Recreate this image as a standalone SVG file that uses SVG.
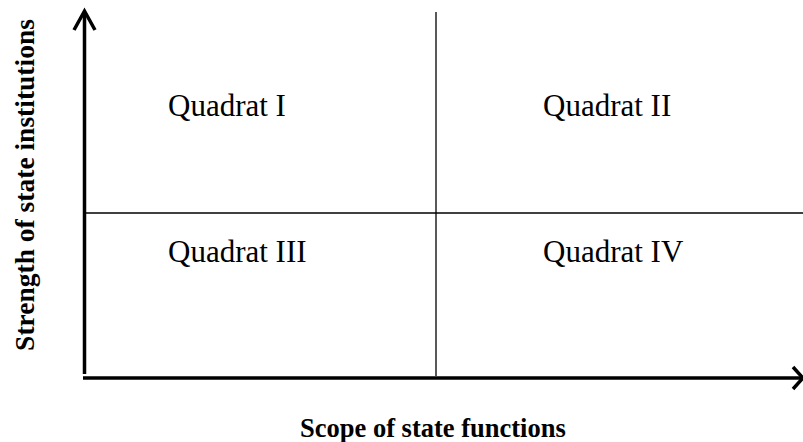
<svg xmlns="http://www.w3.org/2000/svg" width="803" height="442" viewBox="0 0 803 442">
<style>
.q{font-family:"Liberation Serif","Times New Roman",serif;font-size:31px;fill:#000}
.ax{font-family:"Liberation Serif","Times New Roman",serif;font-weight:bold;fill:#000}
.axis{stroke:#000;stroke-width:3.5;fill:none}
.div{stroke:#000;stroke-width:1.3;fill:none}
</style>
<rect width="803" height="442" fill="#fff"/>
<g id="connectors">
<line class="div" x1="436" y1="12" x2="436" y2="376"/>
<line class="div" x1="86" y1="213" x2="803" y2="213"/>
<line class="axis" x1="84.5" y1="12" x2="84.5" y2="374"/>
<polyline class="axis" points="74,30 84.5,11 95,30"/>
<line class="axis" x1="83" y1="378" x2="802" y2="378"/>
<polyline class="axis" points="793,367 803,378 793,389"/>
</g>
<g id="q1"><text class="q" x="168" y="116">Quadrat I</text></g>
<g id="q2"><text class="q" x="543" y="116">Quadrat II</text></g>
<g id="q3"><text class="q" x="168" y="262">Quadrat III</text></g>
<g id="q4"><text class="q" x="543" y="262">Quadrat IV</text></g>
<g id="xlabel"><text class="ax" x="300" y="437" font-size="26.5">Scope of state functions</text></g>
<g id="ylabel"><text class="ax" font-size="27.5" transform="translate(34,185) rotate(-90)" text-anchor="middle">Strength of state institutions</text></g>
</svg>
